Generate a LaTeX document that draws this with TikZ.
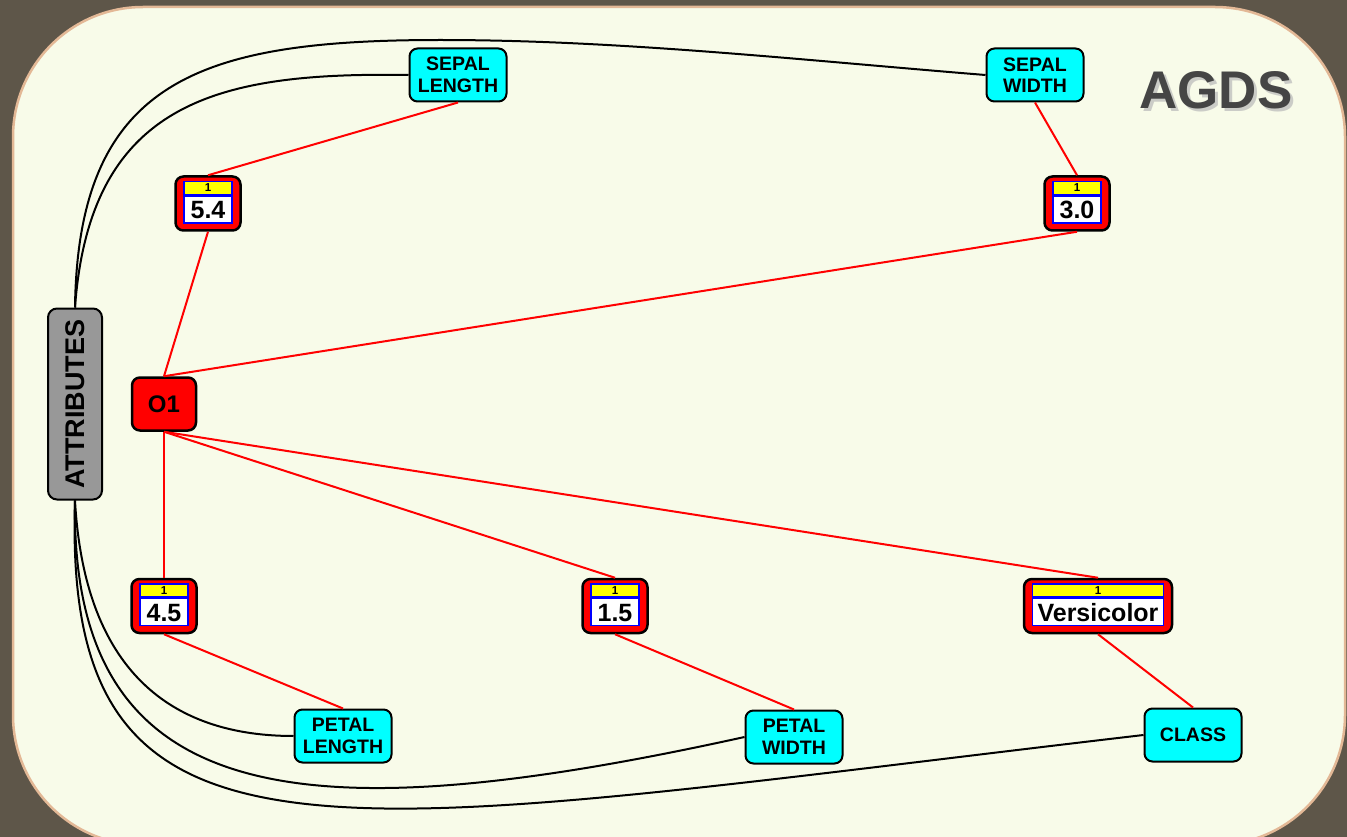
\documentclass[tikz,border=0pt]{standalone}
\usepackage{fontspec}
\setmainfont{Liberation Sans}
\usepackage{tikz}
\usetikzlibrary{calc}

\definecolor{backdrop}{HTML}{5E5649}
\definecolor{panel}{HTML}{F8FBE9}
\definecolor{panelrim}{HTML}{E3B896}
\definecolor{titlegray}{HTML}{454545}
\definecolor{attrgray}{HTML}{989898}
\definecolor{namecyan}{RGB}{0,255,255}
\definecolor{countyellow}{RGB}{255,255,0}

% value node: red frame, yellow count strip over the white value box
\newcommand{\attrval}[4]{%
  \node[valframe, minimum width=#3+17pt] (#1) at #2 {};
  \node[valbody, minimum width=#3, anchor=south] (#1b) at ([yshift=8pt]#1.south) {#4};
  \node[valcount, minimum width=#3, anchor=south] at (#1b.north) {1};
}

\begin{document}
\begin{tikzpicture}[x=1pt, y=-1pt,
    lbl/.style={draw, line width=2pt, fill=namecyan, rounded corners=8pt,
      minimum width=97pt, minimum height=53pt, align=center, inner sep=2pt,
      font=\fontsize{19.5}{21.6}\selectfont\bfseries},
    valframe/.style={draw, line width=2.5pt, fill=red, rounded corners=8pt,
      minimum height=54pt},
    valbody/.style={draw=blue, line width=1.5pt, fill=white, minimum height=27pt,
      inner sep=0pt, text height=18pt, text depth=0pt,
      font=\fontsize{25}{28}\selectfont\bfseries},
    valcount/.style={draw=blue, line width=1.5pt, fill=countyellow, minimum height=13pt,
      inner sep=0pt, text height=8pt, text depth=0pt,
      font=\fontsize{11.5}{12}\selectfont\bfseries},
    redline/.style={red, line width=2pt},
    blackline/.style={black, line width=2pt}]
        \useasboundingbox (0,0) rectangle (1347,837);
        \clip (0,0) rectangle (1347,837);
        \fill[backdrop] (0,0) rectangle (1347,837);
        \draw[panelrim, line width=2.5pt, fill=panel, rounded corners=130pt]
          (13,7) rectangle (1345,845);

        % title with its soft shadow
        \node[text=gray!55, opacity=0.7, font=\fontsize{53}{60}\selectfont\bfseries]
          at (1219,93) {AGDS};
        \node[text=titlegray, font=\fontsize{53}{60}\selectfont\bfseries]
          (title) at (1216,90) {AGDS};

        % attribute names
        \node[lbl] (sl) at (458,75) {SEPAL\\LENGTH};
        \node[lbl] (sw) at (1035,75) {SEPAL\\WIDTH};
        \node[lbl] (pl) at (343,736) {PETAL\\LENGTH};
        \node[lbl] (pw) at (794,737) {PETAL\\WIDTH};
        \node[lbl] (cls) at (1193,735) {CLASS};

        \node[draw, line width=2pt, fill=attrgray, rounded corners=9pt, rotate=90,
          minimum width=191pt, minimum height=54pt,
          font=\fontsize{27}{30}\selectfont\bfseries] (attr) at (75,404) {ATTRIBUTES};

        % object
        \node[draw, line width=2.5pt, fill=red, rounded corners=8pt,
          minimum width=64pt, minimum height=53pt,
          font=\fontsize{24}{28}\selectfont\bfseries] (o1) at (164,404) {O1};

        % values
        \attrval{v54}{(208,203.5)}{48pt}{5.4}
        \attrval{v30}{(1077,203.5)}{48pt}{3.0}
        \attrval{v45}{(164,606)}{48pt}{4.5}
        \attrval{v15}{(615,606)}{48pt}{1.5}
        \attrval{vvc}{(1098,606)}{131pt}{Versicolor}

        \draw[redline] (sl.south) -- (v54.north);
        \draw[redline] (sw.south) -- (v30.north);
        \draw[redline] (v54.south) -- (o1.north);
        \draw[redline] (v30.south) -- (o1.north);
        \draw[redline] (o1.south) -- (v45.north);
        \draw[redline] (o1.south) -- (v15.north);
        \draw[redline] (o1.south) -- (vvc.north);
        \draw[redline] (v45.south) -- (pl.north);
        \draw[redline] (v15.south) -- (pw.north);
        \draw[redline] (vvc.south) -- (cls.north);

        % attribute links
        \draw[blackline] (attr.east) .. controls (90,100) and (220,72) .. (sl.west);
        \draw[blackline] (attr.east) .. controls (78,80) and (200,40) .. (440,40)
          .. controls (620,40) and (800,60) .. (sw.west);
        \draw[blackline] (attr.west) .. controls (85,680) and (180,736) .. (pl.west);
        \draw[blackline] (attr.west) .. controls (70,810) and (300,835) .. (pw.west);
        \draw[blackline] (attr.west) .. controls (62,900) and (330,830) .. (cls.west);
      \end{tikzpicture}
\end{document}
